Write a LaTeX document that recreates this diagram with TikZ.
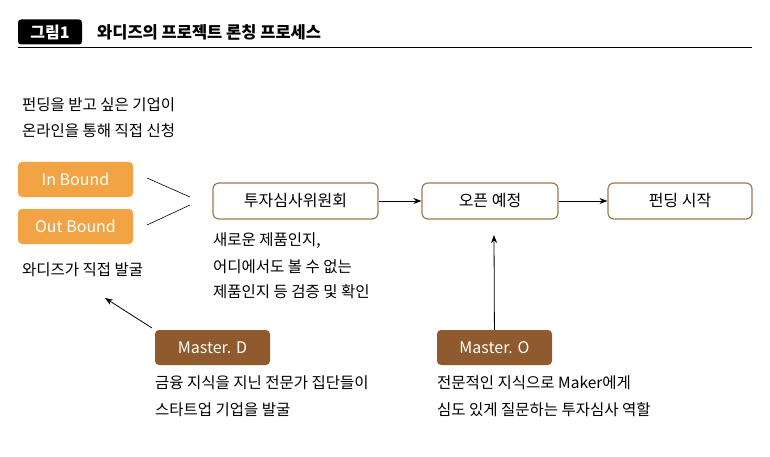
\documentclass[tikz,border=0pt]{standalone}
\usepackage{fontspec}
\setmainfont{Noto Sans CJK KR}
\usetikzlibrary{arrows.meta}
\definecolor{org}{HTML}{F2A444}
\definecolor{brn}{HTML}{8E5A2E}
\definecolor{bdr}{HTML}{A07850}
\begin{document}
\begin{tikzpicture}[x=1pt,y=-1pt,
  txt/.style={anchor=west,font=\fontsize{15.5}{17}\selectfont,inner sep=0},
  obox/.style={fill=org,rounded corners=4pt,minimum width=115pt,minimum height=35pt,text=white,font=\fontsize{16}{18}\selectfont},
  bbox/.style={fill=brn,rounded corners=4pt,minimum width=115pt,minimum height=35pt,text=white,font=\fontsize{16}{18}\selectfont},
  wbox/.style={draw=bdr,line width=1.2pt,rounded corners=6pt,minimum height=36pt,font=\fontsize{16}{18}\selectfont},
  arr/.style={-{Stealth[length=8pt,width=6pt]},line width=0.8pt}]
\useasboundingbox (0,0) rectangle (770,457);
\node[fill=black,rounded corners=3pt,minimum width=64pt,minimum height=25pt,text=white,font=\bfseries\fontsize{16}{18}\selectfont] (tag) at (50,32) {그림1};
\node[txt,font=\bfseries\fontsize{16.5}{18}\selectfont] (title) at (97,32) {와디즈의 프로젝트 론칭 프로세스};
\draw[line width=0.8pt] (18,47) -- (752,47);
\node[txt] (t1) at (22,105) {펀딩을 받고 싶은 기업이};
\node[txt] (t2) at (22,131) {온라인을 통해 직접 신청};
\node[obox] (in) at (75.5,179.5) {In Bound};
\node[obox] (out) at (75.5,226.5) {Out Bound};
\node[txt] (t3) at (22,270) {와디즈가 직접 발굴};
\coordinate (u1) at (147,178); \coordinate (u2) at (190,197);
\coordinate (l1) at (147,225); \coordinate (l2) at (190,205);
\draw[line width=0.6pt] (u1) -- (u2);
\draw[line width=0.6pt] (l1) -- (l2);
\node[wbox,minimum width=165pt] (c) at (295.5,201) {투자심사위원회};
\node[wbox,minimum width=136pt] (o) at (490,201) {오픈 예정};
\node[wbox,minimum width=144pt] (f) at (680,201) {펀딩 시작};
\draw[arr] (c) -- (o);
\draw[arr] (o) -- (f);
\node[txt] at (213,241) {새로운 제품인지,};
\node[txt] at (213,267) {어디에서도 볼 수 없는};
\node[txt] at (213,292) {제품인지 등 검증 및 확인};
\node[bbox] (md) at (212.5,347.5) {Master. D};
\node[bbox] (mo) at (494.5,347.5) {Master. O};
\coordinate (a1) at (152,328); \coordinate (a2) at (105,298);
\draw[arr] (a1) -- (a2);
\draw[arr] (mo) -- (494,235);
\node[txt] at (155,383) {금융 지식을 지닌 전문가 집단들이};
\node[txt] at (155,410) {스타트업 기업을 발굴};
\node[txt] at (437,383) {전문적인 지식으로 Maker에게};
\node[txt] at (437,410) {심도 있게 질문하는 투자심사 역할};
\end{tikzpicture}
\end{document}
